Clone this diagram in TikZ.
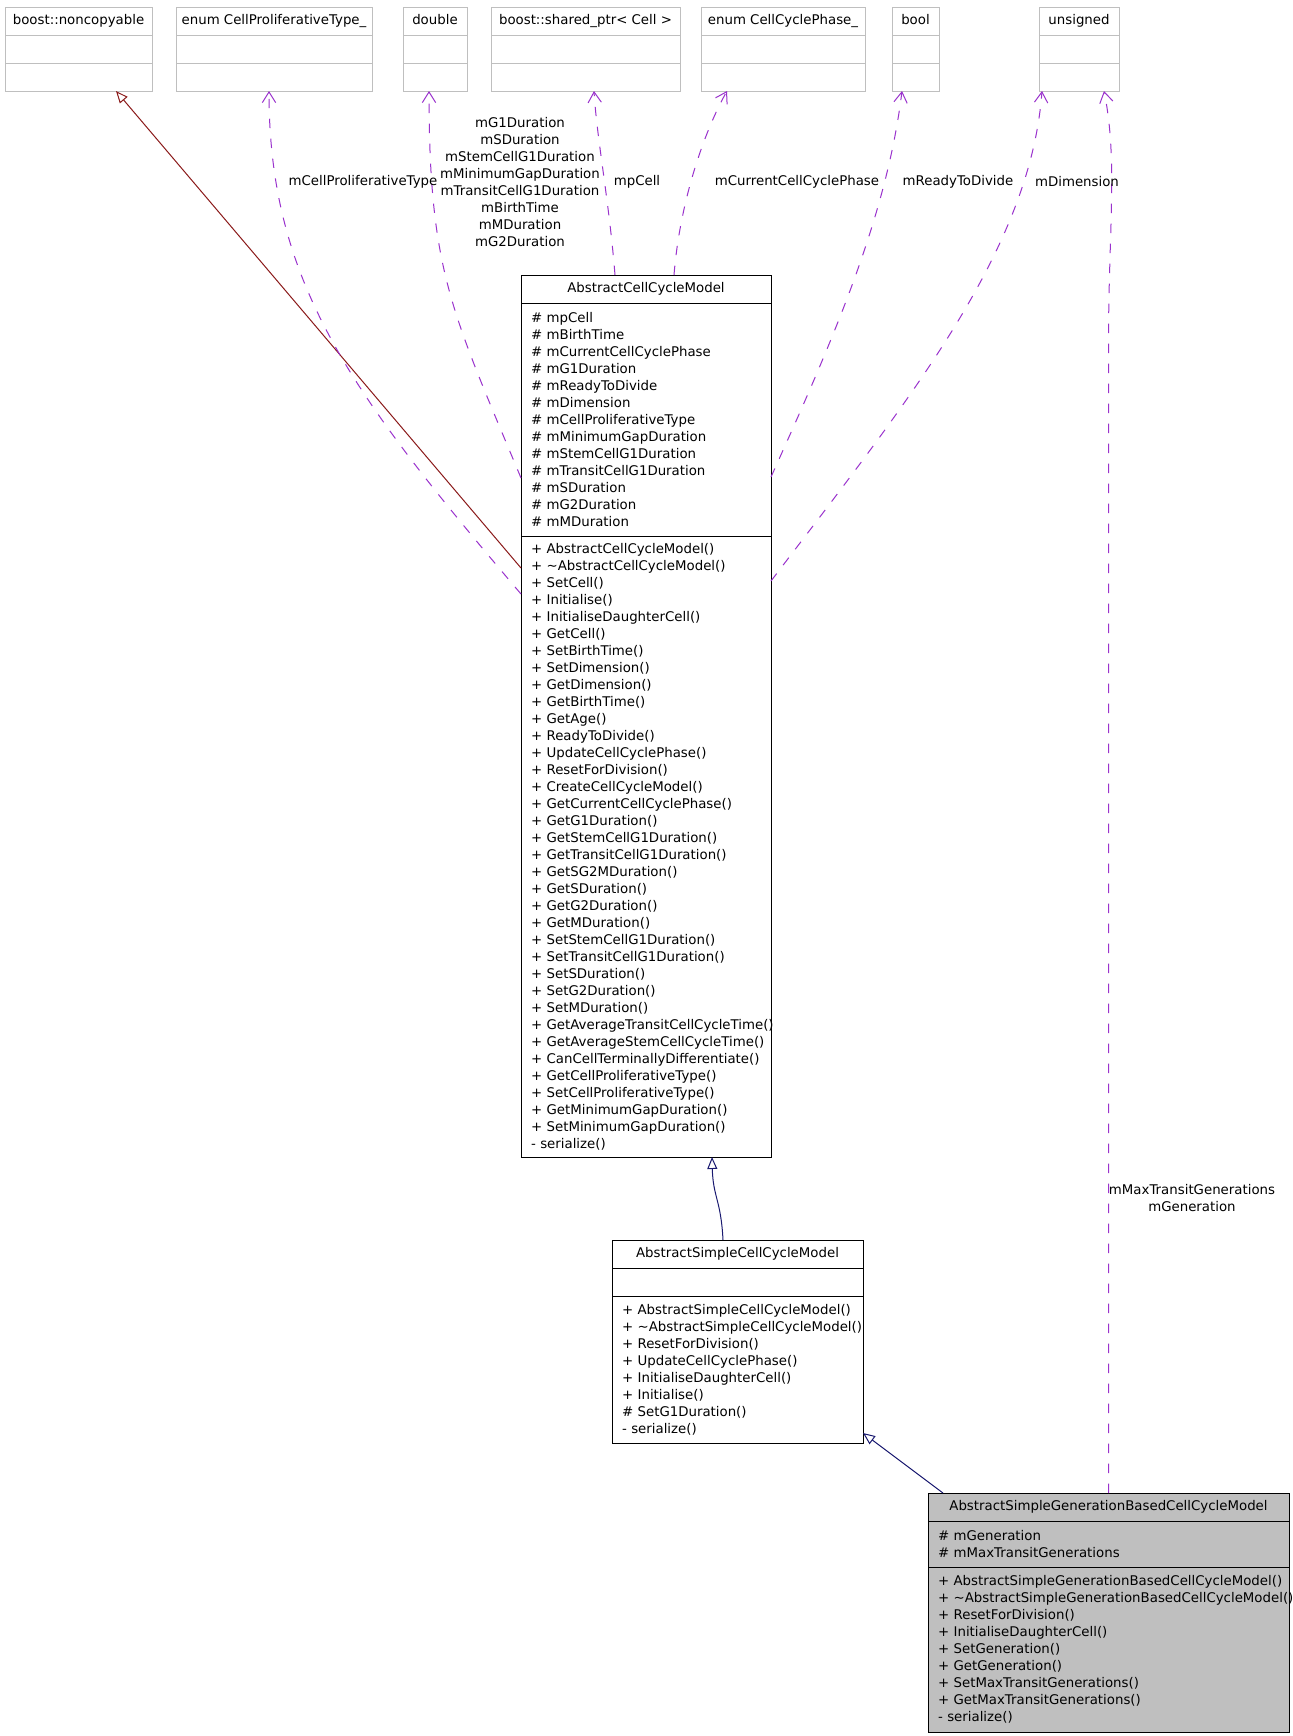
\documentclass[tikz,border=0pt]{standalone}
\usepackage{fontspec}
\setmainfont{DejaVu Sans}
\usetikzlibrary{arrows.meta,positioning}
\definecolor{firebrick4}{HTML}{8B1A1A}
\definecolor{midnightblue}{HTML}{191970}
\definecolor{darkorchid3}{HTML}{9A32CD}
\definecolor{grey75}{HTML}{BFBFBF}
\hyphenpenalty=10000
\exhyphenpenalty=10000
\begin{document}
\begin{tikzpicture}[x=0.75pt, y=-0.75pt, line width=0.75pt,
    every node/.style={font=\fontsize{10pt}{12.75pt}\selectfont, inner sep=0pt, outer sep=0pt},
    node distance=0pt,
    exthd/.style={draw=grey75, minimum height=21pt, text height=7.5pt, text depth=2pt},
    extpart/.style={draw=grey75, minimum height=21pt},
    clshd/.style={draw, minimum height=21pt, text height=7.5pt, text depth=2pt},
    clspart/.style={draw, align=left, inner xsep=7.5pt},
    inh/.style={-{Triangle[open, length=9pt, width=7.5pt]}},
    mbr/.style={darkorchid3, dash pattern=on 7pt off 8pt, -{Straight Barb[length=8pt, width=10pt]}}]
    \fill[white] (0,0) rectangle (1293,1736);
    \useasboundingbox (0,0) rectangle (1293,1736);

    % used types
    \foreach \nm/\xl/\bw/\txt in {nc/5/110.25pt/{boost::noncopyable}, cpt/176/147pt/{enum CellProliferativeType\_},
        dbl/403/48pt/{double}, sp/491/141.75pt/{boost::shared\_ptr< Cell >}, ccp/701/123pt/{enum CellCyclePhase\_},
        bool/892/35.25pt/{bool}, uns/1039/60pt/{unsigned}} {
      \node[exthd, minimum width=\bw, anchor=north west] (\nm-h) at (\xl,7) {\txt};
      \node[extpart, minimum width=\bw, below=of \nm-h] (\nm-a) {};
      \node[extpart, minimum width=\bw, below=of \nm-a] (\nm) {};
    }

    % AbstractCellCycleModel
    \node[clshd, minimum width=187.5pt, anchor=north west] (accm) at (521,275) {AbstractCellCycleModel};
    \node[clspart, text width=172.5pt, minimum height=174.75pt, below=of accm] (accm-a) {\#~mpCell\\ \#~mBirthTime\\ \#~mCurrentCellCyclePhase\\ \#~mG1Duration\\ \#~mReadyToDivide\\ \#~mDimension\\ \#~mCellProliferativeType\\ \#~mMinimumGapDuration\\ \#~mStemCellG1Duration\\ \#~mTransitCellG1Duration\\ \#~mSDuration\\ \#~mG2Duration\\ \#~mMDuration};
    \node[clspart, text width=172.5pt, minimum height=465.75pt, below=of accm-a] (accm-o) {+~AbstractCellCycleModel()\\ +~\textasciitilde AbstractCellCycleModel()\\ +~SetCell()\\ +~Initialise()\\ +~InitialiseDaughterCell()\\ +~GetCell()\\ +~SetBirthTime()\\ +~SetDimension()\\ +~GetDimension()\\ +~GetBirthTime()\\ +~GetAge()\\ +~ReadyToDivide()\\ +~UpdateCellCyclePhase()\\ +~ResetForDivision()\\ +~CreateCellCycleModel()\\ +~GetCurrentCellCyclePhase()\\ +~GetG1Duration()\\ +~GetStemCellG1Duration()\\ +~GetTransitCellG1Duration()\\ +~GetSG2MDuration()\\ +~GetSDuration()\\ +~GetG2Duration()\\ +~GetMDuration()\\ +~SetStemCellG1Duration()\\ +~SetTransitCellG1Duration()\\ +~SetSDuration()\\ +~SetG2Duration()\\ +~SetMDuration()\\ +~GetAverageTransitCellCycleTime()\\ +~GetAverageStemCellCycleTime()\\ +~CanCellTerminallyDifferentiate()\\ +~GetCellProliferativeType()\\ +~SetCellProliferativeType()\\ +~GetMinimumGapDuration()\\ +~SetMinimumGapDuration()\\ -~serialize()};

    % AbstractSimpleCellCycleModel
    \node[clshd, minimum width=188.25pt, anchor=north west] (ascm) at (612,1240) {AbstractSimpleCellCycleModel};
    \node[clspart, text width=173.25pt, minimum height=21pt, below=of ascm] (ascm-a) {};
    \node[clspart, text width=173.25pt, minimum height=110.25pt, below=of ascm-a] (ascm-o) {+~AbstractSimpleCellCycleModel()\\ +~\textasciitilde AbstractSimpleCellCycleModel()\\ +~ResetForDivision()\\ +~UpdateCellCyclePhase()\\ +~InitialiseDaughterCell()\\ +~Initialise()\\ \#~SetG1Duration()\\ -~serialize()};

    % AbstractSimpleGenerationBasedCellCycleModel
    \node[clshd, fill=grey75, minimum width=270.75pt, anchor=north west] (asg) at (928,1493) {AbstractSimpleGenerationBasedCellCycleModel};
    \node[clspart, fill=grey75, text width=255.75pt, minimum height=34.5pt, below=of asg] (asg-a) {\#~mGeneration\\ \#~mMaxTransitGenerations};
    \node[clspart, fill=grey75, text width=255.75pt, minimum height=123.75pt, below=of asg-a] (asg-o) {+~AbstractSimpleGenerationBasedCellCycleModel()\\ +~\textasciitilde AbstractSimpleGenerationBasedCellCycleModel()\\ +~ResetForDivision()\\ +~InitialiseDaughterCell()\\ +~SetGeneration()\\ +~GetGeneration()\\ +~SetMaxTransitGenerations()\\ +~GetMaxTransitGenerations()\\ -~serialize()};

    % inheritance
    \draw[inh, firebrick4] ([shift={(0,32)}]accm-o.north west) -- ([shift={(37.5,0)}]nc.south);
    \draw[inh, midnightblue] ([shift={(-14.5,0)}]ascm.north) .. controls +(-2,-40) and +(1,40) .. ([shift={(66,0)}]accm-o.south);
    \draw[inh, midnightblue] ([shift={(15,0)}]asg.north west) -- ([shift={(0,-10)}]ascm-o.south east);

    % members
    \draw[mbr] ([shift={(0,58)}]accm-o.north west) .. controls +(-169,-199) and +(0,192) .. ([shift={(-5,0)}]cpt.south);
    \draw[mbr] ([shift={(0,175)}]accm-a.north west) .. controls +(-69,-166) and +(0,181) .. ([shift={(-6,0)}]dbl.south);
    \draw[mbr] ([shift={(-31,0)}]accm.north) .. controls +(-6,-75) and +(3,49) .. ([shift={(8.5,0)}]sp.south);
    \draw[mbr] ([shift={(28,0)}]accm.north) .. controls +(6,-75) and +(-22,39) .. ([shift={(-56,0)}]ccp.south);
    \draw[mbr] ([shift={(0,174)}]accm-a.north east) .. controls +(58.5,-130) and +(-16,130) .. ([shift={(-13.5,0)}]bool.south);
    \draw[mbr] ([shift={(0,45)}]accm-o.north east) .. controls +(137,-180) and +(-12,160) .. ([shift={(-37,0)}]uns.south);
    \draw[mbr] (asg.north) -- ++(0,-1150) .. controls +(0,-113) and +(14,69) .. ([shift={(25,0)}]uns.south);

    % member labels
    \node (l-cpt) at (363,182) {mCellProliferativeType};
    \node[align=center] (l-dbl) at (520,182.5) {mG1Duration\\mSDuration\\mStemCellG1Duration\\mMinimumGapDuration\\mTransitCellG1Duration\\mBirthTime\\mMDuration\\mG2Duration};
    \node (l-sp) at (637,182) {mpCell};
    \node (l-ccp) at (797,182) {mCurrentCellCyclePhase};
    \node (l-bool) at (958,182) {mReadyToDivide};
    \node (l-dim) at (1077,182) {mDimension};
    \node[align=center] (l-gen) at (1192,1198) {mMaxTransitGenerations\\mGeneration};
\end{tikzpicture}
\end{document}
